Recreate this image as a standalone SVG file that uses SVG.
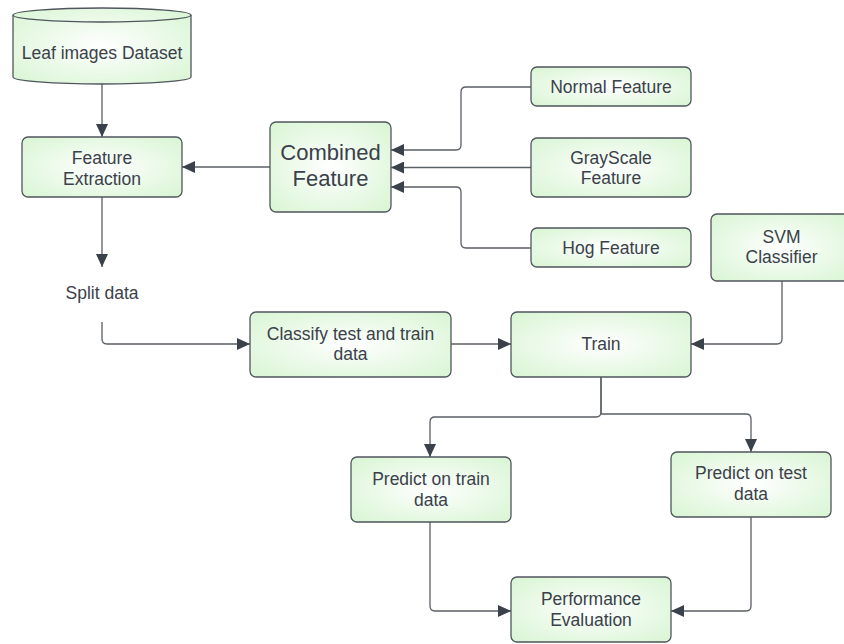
<svg xmlns="http://www.w3.org/2000/svg" width="844" height="644" viewBox="0 0 844 644">
  <defs>
    <radialGradient id="fillGreen" cx="50%" cy="50%" r="70%">
      <stop offset="0" stop-color="#ffffff"/>
      <stop offset="1" stop-color="#d8f5d3"/>
    </radialGradient>
    <marker id="arrow" markerUnits="userSpaceOnUse" markerWidth="14" markerHeight="12" refX="13" refY="6" orient="auto">
      <path d="M0,0 L13,6 L0,12 Z" fill="#3a414a"/>
    </marker>
    <style>
      .box { fill: url(#fillGreen); stroke: #50565e; stroke-width: 1.3; }
      .lbl { font-family: "Liberation Sans", Arial, sans-serif; font-size: 17.5px; fill: #3a414a; text-anchor: middle; }
      .big { font-size: 22px; }
      .conn { fill: none; stroke: #5a5f66; stroke-width: 1.3; }
      .conn.arr { marker-end: url(#arrow); }
    </style>
  </defs>

  <rect width="844" height="644" fill="#ffffff"/>

  <!-- connectors -->
  <g id="connectors">
    <path class="conn arr" d="M102,84 V137"/>
    <path class="conn arr" d="M270,167 H182"/>
    <path class="conn arr" d="M531,87 H466 Q461,87 461,92 V145 Q461,150 456,150 H391"/>
    <path class="conn arr" d="M531,167.5 H391"/>
    <path class="conn arr" d="M531,248 H466 Q461,248 461,243 V192 Q461,187 456,187 H391"/>
    <path class="conn arr" d="M102,197 V267"/>
    <path class="conn arr" d="M102,322 V339 Q102,344 107,344 H250"/>
    <path class="conn arr" d="M451,344 H511"/>
    <path class="conn arr" d="M782,281 V339 Q782,344 777,344 H691"/>
    <path class="conn arr" d="M601,377 V412 Q601,417 596,417 H435 Q430,417 430,422 V457"/>
    <path class="conn arr" d="M601,377 V414 H746 Q751,414 751,419 V452"/>
    <path class="conn arr" d="M430,522 V606 Q430,611 435,611 H511"/>
    <path class="conn arr" d="M751,517 V606 Q751,611 746,611 H671"/>
  </g>

  <!-- dataset cylinder -->
  <g id="dataset">
    <path class="box" d="M13,15 V77 A89,7 0 0 0 191,77 V15 A89,7 0 0 0 13,15 Z"/>
    <path fill="none" stroke="#50565e" stroke-width="1.3" d="M13,15 A89,7 0 0 0 191,15"/>
    <text class="lbl" x="102" y="59">Leaf images Dataset</text>
  </g>

  <g id="feature-extraction">
    <rect class="box" x="22" y="137" width="160" height="60" rx="6"/>
    <text class="lbl" x="102" y="164">Feature</text>
    <text class="lbl" x="102" y="185">Extraction</text>
  </g>

  <g id="combined-feature">
    <rect class="box" x="270" y="122" width="121" height="90" rx="6"/>
    <text class="lbl big" x="330.5" y="159.5">Combined</text>
    <text class="lbl big" x="330.5" y="185.5">Feature</text>
  </g>

  <g id="normal-feature">
    <rect class="box" x="531" y="67" width="160" height="39" rx="6"/>
    <text class="lbl" x="611" y="93">Normal Feature</text>
  </g>

  <g id="grayscale-feature">
    <rect class="box" x="531" y="138" width="160" height="59" rx="6"/>
    <text class="lbl" x="611" y="164">GrayScale</text>
    <text class="lbl" x="611" y="184">Feature</text>
  </g>

  <g id="hog-feature">
    <rect class="box" x="531" y="228" width="160" height="39" rx="6"/>
    <text class="lbl" x="611" y="254">Hog Feature</text>
  </g>

  <g id="svm-classifier">
    <rect class="box" x="711" y="214" width="141" height="67" rx="6"/>
    <text class="lbl" x="781.5" y="243">SVM</text>
    <text class="lbl" x="781.5" y="263">Classifier</text>
  </g>

  <g id="split-data">
    <text class="lbl" x="102" y="299">Split data</text>
  </g>

  <g id="classify">
    <rect class="box" x="250" y="312" width="201" height="65" rx="6"/>
    <text class="lbl" x="350.5" y="339.5">Classify test and train</text>
    <text class="lbl" x="350.5" y="359.5">data</text>
  </g>

  <g id="train">
    <rect class="box" x="511" y="312" width="180" height="65" rx="6"/>
    <text class="lbl" x="601" y="349.5">Train</text>
  </g>

  <g id="predict-train">
    <rect class="box" x="351" y="457" width="160" height="65" rx="6"/>
    <text class="lbl" x="431" y="484.5">Predict on train</text>
    <text class="lbl" x="431" y="505.5">data</text>
  </g>

  <g id="predict-test">
    <rect class="box" x="671" y="452" width="160" height="65" rx="6"/>
    <text class="lbl" x="751" y="478.5">Predict on test</text>
    <text class="lbl" x="751" y="499.5">data</text>
  </g>

  <g id="performance">
    <rect class="box" x="511" y="577" width="160" height="65" rx="6"/>
    <text class="lbl" x="591" y="604.5">Performance</text>
    <text class="lbl" x="591" y="625.5">Evaluation</text>
  </g>
</svg>
